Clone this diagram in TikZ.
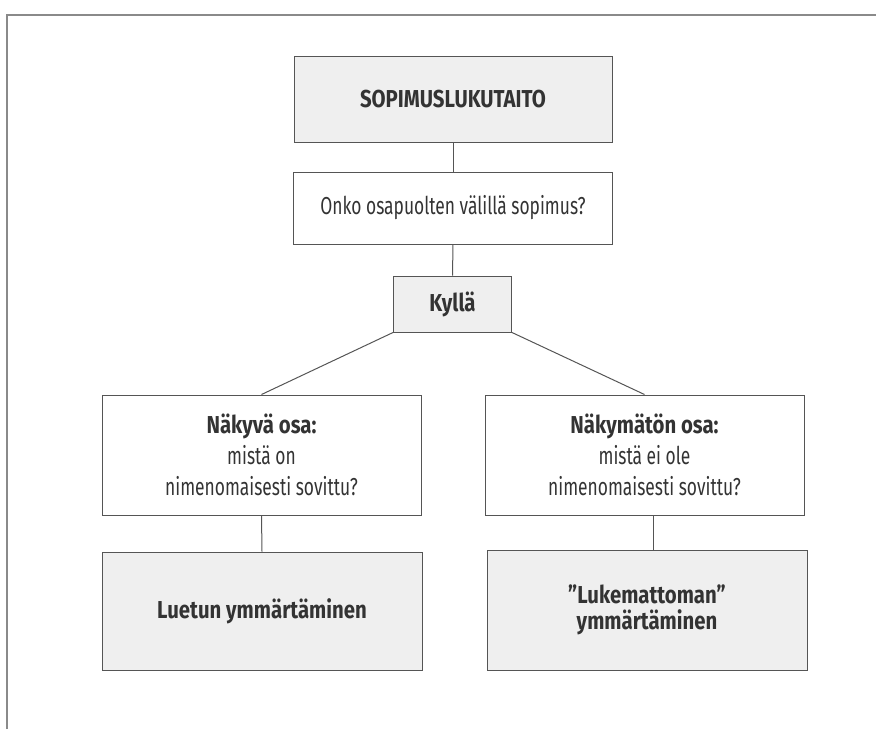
\documentclass[tikz,border=0pt]{standalone}
\usepackage{fontspec}
\setmainfont{Fira Sans}[FakeStretch=0.71, BoldFeatures={FakeStretch=0.83}]
\usepackage{tikz}
\usetikzlibrary{positioning, calc}

\definecolor{boxline}{HTML}{555555}
\definecolor{boxfill}{HTML}{EFEFEF}
\definecolor{framegray}{HTML}{8A8A8A}
\definecolor{txtgray}{HTML}{333333}

\begin{document}
\begin{tikzpicture}[
    x=1pt, y=-1pt,
    box/.style={draw=boxline, line width=1pt, rectangle, align=center, text=txtgray,
                font=\fontsize{24.5}{31}\selectfont, inner sep=0pt},
    shaded/.style={box, fill=boxfill},
    link/.style={draw=boxline, line width=1pt},
]
\useasboundingbox (0,0) rectangle (876,729);

% Page frame (scan edge)
\draw[framegray, line width=1.5pt] (7,729) -- (7,15) -- (876,15);

% Top of the tree
\node[shaded, minimum width=318, minimum height=86] (title) at (453,99) {\textbf{SOPIMUSLUKUTAITO}};
\node[box, minimum width=319, minimum height=72] (question) at (453,208) {Onko osapuolten välillä sopimus?};
\node[shaded, minimum width=118, minimum height=56] (yes) at (452.5,304) {\textbf{Kyllä}};

% Visible and invisible part
\node[box, minimum width=319, minimum height=120] (visible) at (261.5,455)
    {\textbf{Näkyvä osa:}\\ mistä on\\ nimenomaisesti sovittu?};
\node[box, minimum width=319, minimum height=120] (invisible) at (644.5,455)
    {\textbf{Näkymätön osa:}\\ mistä ei ole\\ nimenomaisesti sovittu?};

% Bottom row
\node[shaded, minimum width=320, minimum height=118] (read) at (262,611) {\textbf{Luetun ymmärtäminen}};
\node[shaded, minimum width=320, minimum height=120, font=\fontsize{24.5}{26}\selectfont] (unread) at (647,610)
    {\textbf{”Lukemattoman”}\\ \textbf{ymmärtäminen}};

% Connectors
\draw[link] (title.south) -- (question.north);
\draw[link] (question.south) -- (yes.north);
\draw[link] (yes.south west) -- (visible.north);
\draw[link] (yes.south east) -- (invisible.north);
\draw[link] (visible.south) -- (read.north);
\draw[link] ([xshift=9]invisible.south) -- ([xshift=9]invisible.south |- unread.north);

\end{tikzpicture}
\end{document}
